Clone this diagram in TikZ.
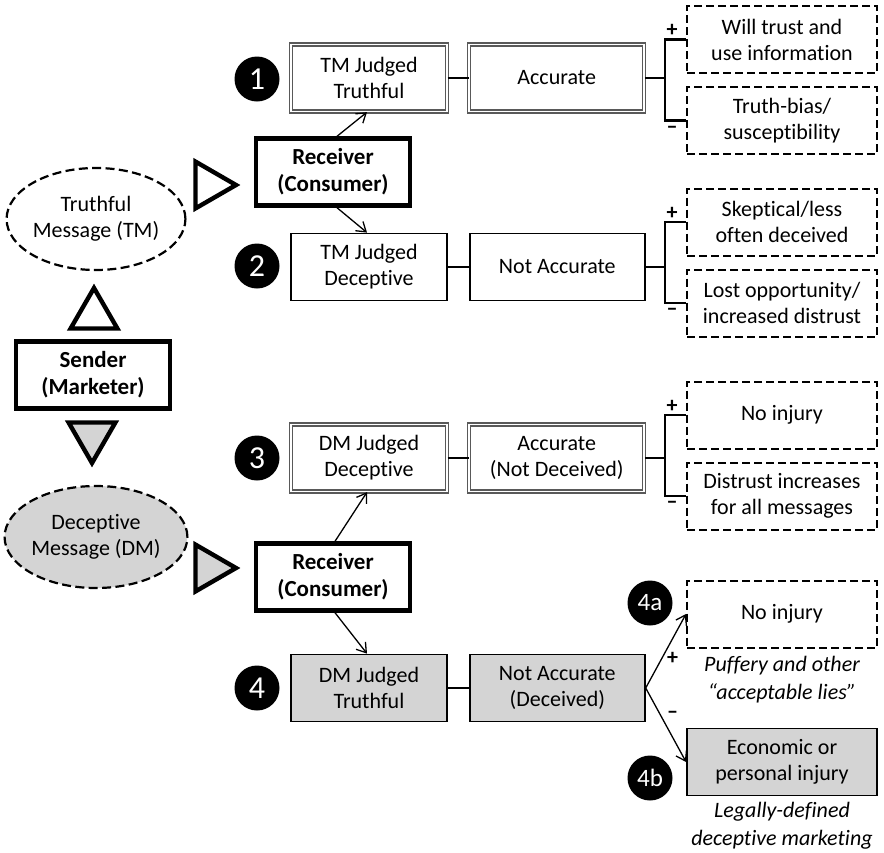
\documentclass[tikz,border=0pt]{standalone}
\usepackage{fontspec}
\setmainfont{Carlito}[Ligatures={TeX,NoCommon}]
\usepackage{tikz}
\usetikzlibrary{arrows.meta,positioning,shapes.geometric}
\colorlet{skygge}{black!17}
\tikzset{
    %Define standard arrow tip
    >={Straight Barb[length=4.5pt,width=6pt]},
    %Define style for boxes
    kasse/.style={
           rectangle,
           draw=black, line width=0.9pt,
           minimum width=78pt,
           minimum height=33.5pt,
           inner sep=1pt,
           align=center},
    bred/.style={kasse, minimum width=87.5pt},
    dobbel/.style={draw=black!65, double=white, double distance=0.9pt, line width=0.6pt},
    stiplet/.style={kasse, line width=1pt, dash pattern=on 4pt off 2pt, minimum width=95pt},
    tyk/.style={kasse, line width=2.2pt, minimum width=77pt,
           font=\fontsize{11.5pt}{13.5pt}\selectfont\bfseries},
    % Define marks
    nummer/.style={circle, fill=black, text=white, minimum size=22.5pt, inner sep=0pt,
           font=\fontsize{16pt}{16pt}\selectfont},
    lille/.style={nummer, font=\fontsize{12.5pt}{12.5pt}\selectfont},
    trekant/.style={regular polygon, regular polygon sides=3, draw=black, line width=2.2pt,
           minimum size=27pt, inner sep=0pt},
    besked/.style={ellipse, draw=black, line width=1.1pt, dash pattern=on 4.5pt off 2.2pt,
           minimum width=87pt, minimum height=51pt, inner sep=0pt, align=center},
    note/.style={align=center, font=\fontsize{11pt}{14pt}\selectfont\itshape},
    tegn/.style={inner sep=0pt, font=\fontsize{11pt}{11pt}\selectfont\bfseries},
    % Define line styles
    pil/.style={->, line width=0.65pt},
    led/.style={line width=1.1pt}
}
\begin{document}
\begin{tikzpicture}[x=0.5pt, y=-0.5pt, font=\fontsize{11pt}{13pt}\selectfont]
\useasboundingbox (0,0) rectangle (884,852);
% sender and messages
\node[tyk](send) at (93,375){Sender\\(Marketer)};
\node[trekant](op) at (94,315){};
\node[besked](tm) at (96,219){Truthful\\Message (TM)};
\node[trekant, fill=skygge, shape border rotate=180](ned) at (92,436){};
\node[besked, fill=skygge](dm) at (96,537){Deceptive\\Message (DM)};
\node[trekant, shape border rotate=-90](tilh1) at (209,185){};
\node[trekant, fill=skygge, shape border rotate=-90](tilh2) at (209,568){};
\node[tyk](rc1) at (333,172){Receiver\\(Consumer)};
\node[tyk](rc2) at (333,577){Receiver\\(Consumer)};
% truthful message
\node[nummer](n1) at (257,79){1};
\node[kasse, dobbel](tjt) at (369,78){TM Judged\\Truthful};
\node[bred, dobbel, right=10.5pt of tjt](acc1){Accurate};
\node[stiplet](will) at (782,39.5){Will trust and\\use information};
\node[stiplet, below=6pt of will](bias){Truth-bias/\\susceptibility};
\node[nummer](n2) at (257,266){2};
\node[kasse](tjd) at (369,267){TM Judged\\Deceptive};
\node[bred, right=10.5pt of tjd](acc2){Not Accurate};
\node[stiplet](skep) at (782,222){Skeptical/less\\often deceived};
\node[stiplet, below=6pt of skep](lost){Lost opportunity/\\increased distrust};
% deceptive message
\node[nummer](n3) at (257,458){3};
\node[kasse, dobbel](djd) at (369,458){DM Judged\\Deceptive};
\node[bred, dobbel, right=10.5pt of djd](acc3){Accurate\\(Not Deceived)};
\node[stiplet](noinj1) at (782,415){No injury};
\node[stiplet, below=6pt of noinj1](distr){Distrust increases\\for all messages};
\node[nummer](n4) at (257,688){4};
\node[kasse, fill=skygge](djt) at (369,688){DM Judged\\Truthful};
\node[bred, fill=skygge, right=10.5pt of djt](acc4){Not Accurate\\(Deceived)};
\node[stiplet](noinj2) at (782,614){No injury};
\node[note](puff) at (782,680){Puffery and other\\“acceptable lies”};
\node[kasse, fill=skygge, minimum width=95pt](eco) at (782,762){Economic or\\personal injury};
\node[note](legal) at (782,826){Legally-defined\\deceptive marketing};
\node[lille](n4a) at (650,603){4a};
\node[lille](n4b) at (650,778){4b};
% connectors
\draw[pil]([xshift=2pt]rc1.north)--([xshift=-1pt]tjt.south);
\draw[pil]([xshift=2pt]rc1.south)--([xshift=-1pt]tjd.north);
\draw[pil]([xshift=1pt]rc2.north)--([xshift=-1pt]djd.south);
\draw[pil]([xshift=1pt]rc2.south)--([xshift=-1pt]djt.north);
\draw[led](tjt)--(acc1);
\draw[led](tjd)--(acc2);
\draw[led](djd)--(acc3);
\draw[led](djt)--(acc4);
% brackets
\draw[led](acc1.east)--++(9.5pt,0);
\draw[led](will.west)--++(-10.5pt,0)|-(bias.west);
\node[tegn] at ([xshift=-7pt,yshift=4.5pt]will.west){+};
\node[tegn] at ([xshift=-7pt,yshift=-4.5pt]bias.west){--};
\draw[led](acc2.east)--++(9.5pt,0);
\draw[led](skep.west)--++(-10.5pt,0)|-(lost.west);
\node[tegn] at ([xshift=-7pt,yshift=4.5pt]skep.west){+};
\node[tegn] at ([xshift=-7pt,yshift=-4.5pt]lost.west){--};
\draw[led](acc3.east)--++(9.5pt,0);
\draw[led](noinj1.west)--++(-10.5pt,0)|-(distr.west);
\node[tegn] at ([xshift=-7pt,yshift=4.5pt]noinj1.west){+};
\node[tegn] at ([xshift=-7pt,yshift=-4.5pt]distr.west){--};
% outcomes of deception
\draw[pil](acc4.east)--(noinj2.west);
\draw[pil](acc4.east)--(eco.west);
\node[tegn] at ([xshift=13.5pt,yshift=15pt]acc4.east){+};
\node[tegn] at ([xshift=13.5pt,yshift=-13.5pt]acc4.east){--};
\end{tikzpicture}
\end{document}
